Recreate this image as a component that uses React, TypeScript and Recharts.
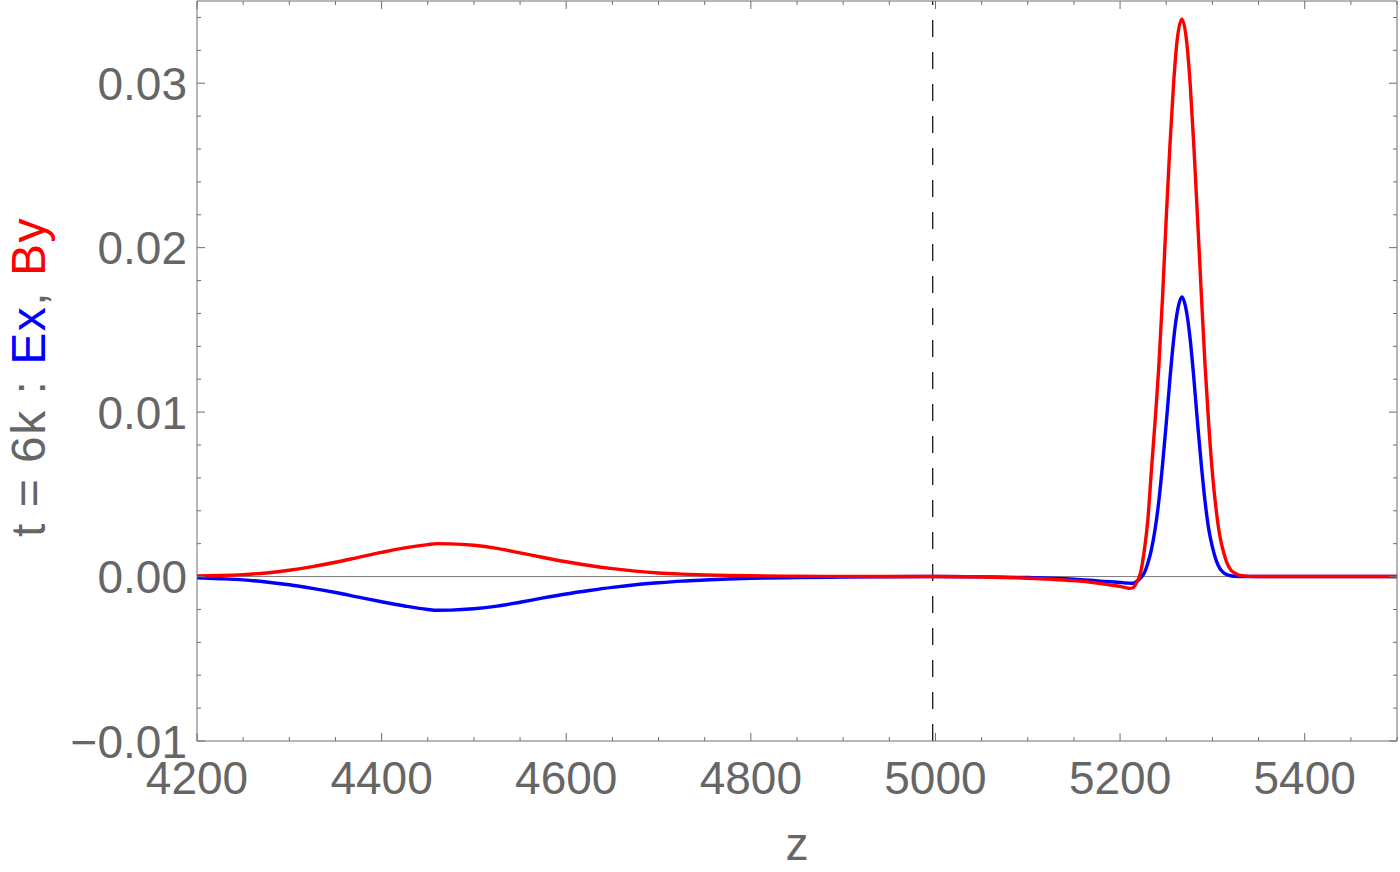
import React from 'react';
import { LineChart, Line, XAxis, YAxis, ReferenceLine } from 'recharts';

const zValues = [
  4200, 4225, 4250, 4275, 4300, 4325, 4350, 4375, 4400, 4425, 4450, 4460, 4475, 4500, 4525, 4550,
  4575, 4600, 4625, 4650, 4675, 4700, 4725, 4750, 4775, 4800, 4850, 4900, 4950, 5000, 5050, 5100,
  5125, 5150, 5175, 5190, 5200, 5206, 5210, 5214, 5218, 5222, 5226, 5230, 5234, 5238, 5242, 5246,
  5250, 5254, 5258, 5262, 5267, 5272, 5276, 5280, 5284, 5288, 5292, 5296, 5300, 5304, 5308, 5312,
  5316, 5320, 5325, 5330, 5340, 5350, 5400, 5450, 5500,
];

const exValues = [
  -0.00008, -0.00013, -0.0002, -0.00033, -0.0005, -0.00072, -0.00097, -0.00125, -0.00153, -0.00179,
  -0.002, -0.00205, -0.00204, -0.00196, -0.0018, -0.00156, -0.0013, -0.00106, -0.00085, -0.00066,
  -0.0005, -0.00038, -0.00028, -0.00021, -0.00015, -0.00011, -0.00006, -0.00003, -0.00001, 0,
  -0.00002, -0.00006, -0.0001, -0.00016, -0.00026, -0.00032, -0.00036, -0.00039, -0.0004, -0.00041,
  -0.0003, -0.0001, 0.0002, 0.0008, 0.00165, 0.0029, 0.0046, 0.0068, 0.0093, 0.012, 0.0144, 0.0161,
  0.017, 0.0161, 0.0144, 0.012, 0.0093, 0.0068, 0.0046, 0.0029, 0.0018, 0.001, 0.0005, 0.00025,
  0.00011, 0.00005, 0.00001, 0, 0, 0, 0, 0, 0,
];

const byValues = [
  0.00003, 0.00006, 0.00012, 0.00022, 0.00038, 0.0006, 0.00087, 0.00117, 0.00147, 0.00174, 0.00194,
  0.002, 0.00199, 0.0019, 0.00171, 0.00144, 0.00116, 0.0009, 0.00067, 0.00048, 0.00033, 0.00022,
  0.00015, 0.0001, 0.00007, 0.00005, 0.00002, 0.00001, 0, 0, -0.00003, -0.0001, -0.00016, -0.00025,
  -0.0004, -0.00052, -0.0006, -0.00067, -0.00072, -0.00068, -0.00035, 0.0002, 0.0015, 0.0034, 0.0065,
  0.0095, 0.0128, 0.017, 0.0218, 0.0262, 0.03, 0.0327, 0.0339, 0.0326, 0.0299, 0.0261, 0.0217,
  0.0172, 0.0129, 0.0093, 0.0063, 0.0041, 0.0025, 0.0015, 0.0008, 0.0004, 0.00019, 0.00007, 0.00001,
  0, 0, 0, 0,
];

const xTicks = [
  4200, 4250, 4300, 4350, 4400, 4450, 4500, 4550, 4600, 4650, 4700, 4750, 4800, 4850, 4900, 4950,
  5000, 5050, 5100, 5150, 5200, 5250, 5300, 5350, 5400, 5450, 5500,
];
const yTicks = [
  -0.01, -0.008, -0.006, -0.004, -0.002, 0, 0.002, 0.004, 0.006, 0.008, 0.01, 0.012, 0.014, 0.016,
  0.018, 0.02, 0.022, 0.024, 0.026, 0.028, 0.03, 0.032, 0.034,
];
const markerZ = 4997;

const data = zValues.map((z, i) => ({ z, ex: exValues[i], by: byValues[i] }));

const FONT = '"Liberation Sans", Arial, sans-serif';
const GRAY = '#666666';
const FRAME = '#6e6e6e';

const isMajorX = (v: number) => v % 200 === 0;
const isMajorY = (v: number) => Math.abs(Math.round(v * 100) - v * 100) < 1e-6;

function BottomTick({ x, y, payload }: any) {
  const v = payload.value;
  const major = isMajorX(v);
  return (
    <g>
      <line x1={x} x2={x} y1={y} y2={y - (major ? 8 : 4)} stroke={FRAME} />
      {major && (
        <text x={x} y={y + 53} textAnchor="middle" fontSize={46} fontFamily={FONT} fill={GRAY}>
          {v}
        </text>
      )}
    </g>
  );
}

function TopTick({ x, y, payload }: any) {
  const major = isMajorX(payload.value);
  return <line x1={x} x2={x} y1={y} y2={y + (major ? 8 : 4)} stroke={FRAME} />;
}

function LeftTick({ x, y, payload }: any) {
  const v = payload.value;
  const major = isMajorY(v);
  const label = v.toFixed(2).replace('-', '\u2212');
  return (
    <g>
      <line x1={x} x2={x + (major ? 8 : 4)} y1={y} y2={y} stroke={FRAME} />
      {major && (
        <text x={x - 10} y={y + 16.5} textAnchor="end" fontSize={46} fontFamily={FONT} fill={GRAY}>
          {label}
        </text>
      )}
    </g>
  );
}

function RightTick({ x, y, payload }: any) {
  const major = isMajorY(payload.value);
  return <line x1={x} x2={x - (major ? 8 : 4)} y1={y} y2={y} stroke={FRAME} />;
}

const xLabel = () => (
  <text x={797} y={860} textAnchor="middle" fontSize={46} fontFamily={FONT} fill={GRAY}>
    z
  </text>
);

const yLabel = () => (
  <text
    x={0}
    y={0}
    transform="translate(45, 377) rotate(-90)"
    textAnchor="middle"
    fontSize={48}
    letterSpacing={1.5}
    fontFamily={FONT}
    fill={GRAY}
  >
    <tspan>{'t = 6k : '}</tspan>
    <tspan fill="#0000ff">Ex</tspan>
    <tspan>{', '}</tspan>
    <tspan fill="#ff0000">By</tspan>
  </text>
);

export default function App() {
  return (
    <div style={{ position: 'absolute', left: 0, top: 0, background: '#fff' }}>
      <LineChart width={1400} height={872} data={data} margin={{ top: 0, right: 2, bottom: 0, left: 0 }}>
        <XAxis
          xAxisId="b"
          dataKey="z"
          type="number"
          domain={[4200, 5500]}
          allowDataOverflow
          ticks={xTicks}
          interval={0}
          tickSize={0}
          tickMargin={0}
          tickLine={false}
          tick={<BottomTick />}
          axisLine={{ stroke: FRAME, strokeWidth: 1 }}
          height={131}
          label={xLabel}
        />
        <XAxis
          xAxisId="t"
          orientation="top"
          dataKey="z"
          type="number"
          domain={[4200, 5500]}
          allowDataOverflow
          ticks={xTicks}
          interval={0}
          tickSize={0}
          tickMargin={0}
          tickLine={false}
          tick={<TopTick />}
          axisLine={{ stroke: FRAME, strokeWidth: 1 }}
          height={1}
        />
        <YAxis
          yAxisId="l"
          type="number"
          domain={[-0.01, 0.035]}
          allowDataOverflow
          ticks={yTicks}
          interval={0}
          tickSize={0}
          tickMargin={0}
          tickLine={false}
          tick={<LeftTick />}
          axisLine={{ stroke: FRAME, strokeWidth: 1 }}
          width={197}
          label={yLabel}
        />
        <YAxis
          yAxisId="r"
          orientation="right"
          type="number"
          domain={[-0.01, 0.035]}
          allowDataOverflow
          ticks={yTicks}
          interval={0}
          tickSize={0}
          tickMargin={0}
          tickLine={false}
          tick={<RightTick />}
          axisLine={{ stroke: FRAME, strokeWidth: 1 }}
          width={1}
        />
        <ReferenceLine xAxisId="b" yAxisId="l" y={0} stroke="#7a7a7a" strokeWidth={1} />
        <ReferenceLine
          xAxisId="b"
          yAxisId="l"
          x={markerZ}
          stroke="#1a1a1a"
          strokeWidth={1.3}
          strokeDasharray="17 15"
        />
        <Line
          xAxisId="b"
          yAxisId="l"
          type="monotone"
          dataKey="ex"
          stroke="#0000ff"
          strokeWidth={3.4}
          dot={false}
          isAnimationActive={false}
        />
        <Line
          xAxisId="b"
          yAxisId="l"
          type="monotone"
          dataKey="by"
          stroke="#ff0000"
          strokeWidth={3.4}
          dot={false}
          isAnimationActive={false}
        />
      </LineChart>
    </div>
  );
}
